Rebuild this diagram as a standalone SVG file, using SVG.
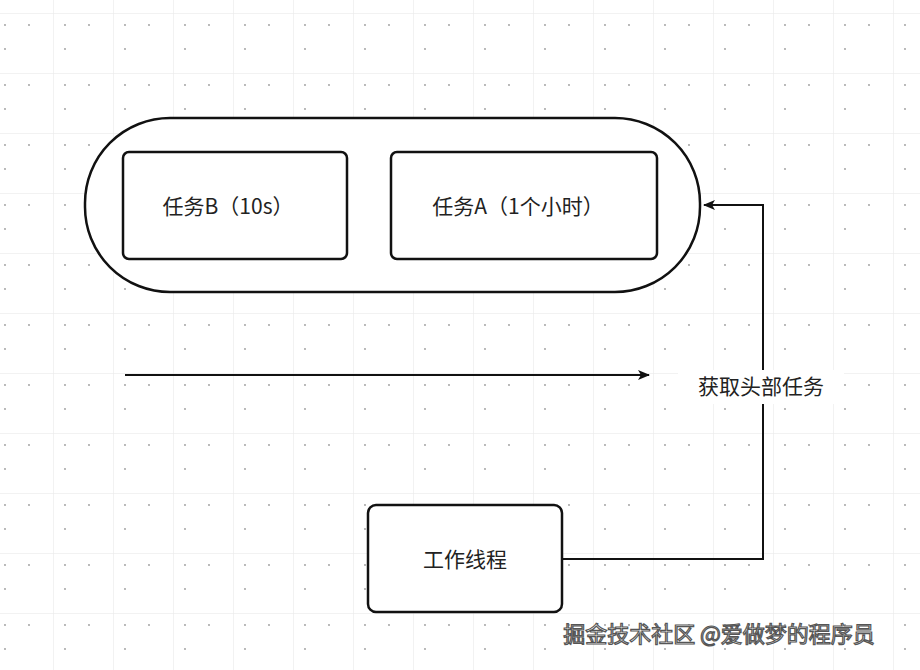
<svg xmlns="http://www.w3.org/2000/svg" width="920" height="670" viewBox="0 0 920 670">
<defs>
<pattern id="g" width="60" height="60" patternUnits="userSpaceOnUse" x="53" y="13">
<path d="M0 0H60M0 0V60" fill="none" stroke="#e6e6e6" stroke-width="1"/>
<circle cx="12" cy="12" r="0.9" fill="#999"/><circle cx="36" cy="12" r="0.9" fill="#999"/><circle cx="12" cy="36" r="0.9" fill="#999"/>
</pattern>
<marker id="ah" markerWidth="12" markerHeight="10" refX="11" refY="5" orient="auto" markerUnits="userSpaceOnUse"><path d="M0 0L12 5L0 10L3 5Z" fill="#111"/></marker>
</defs>
<style>
.box{fill:#fff;stroke:#111;stroke-width:2.5}
.t{font-family:"Noto Sans CJK SC","Noto Sans",sans-serif;font-size:21px;fill:#222;text-anchor:middle}
.c{fill:none;stroke:#111;stroke-width:2}
</style>
<rect width="920" height="670" fill="#fff"/>
<rect width="920" height="670" fill="url(#g)"/>
<g id="queue"><rect class="box" x="85" y="118" width="615" height="174" rx="85"/></g>
<g id="taskB"><rect class="box" x="123" y="152" width="224" height="107" rx="6"/><text class="t" x="228" y="214">任务B（10s）</text></g>
<g id="taskA"><rect class="box" x="391" y="152" width="266" height="107" rx="6"/><text class="t" x="518" y="214">任务A（1个小时）</text></g>
<g id="worker"><rect class="box" x="368" y="505" width="194" height="107" rx="8"/><text class="t" x="465" y="567">工作线程</text></g>
<g id="connectors">
<path class="c" d="M562 559H763V205H704" marker-end="url(#ah)"/>
<path class="c" d="M125 375H649" marker-end="url(#ah)"/>
</g>
<g id="label"><rect x="678" y="370" width="166" height="34" fill="#fff"/><text class="t" x="761" y="394">获取头部任务</text></g>
<text x="719" y="642" font-family="Noto Sans CJK SC,sans-serif" font-size="22" fill="#fff" stroke="#555" stroke-width="1.2" text-anchor="middle">掘金技术社区 @爱做梦的程序员</text>
</svg>
